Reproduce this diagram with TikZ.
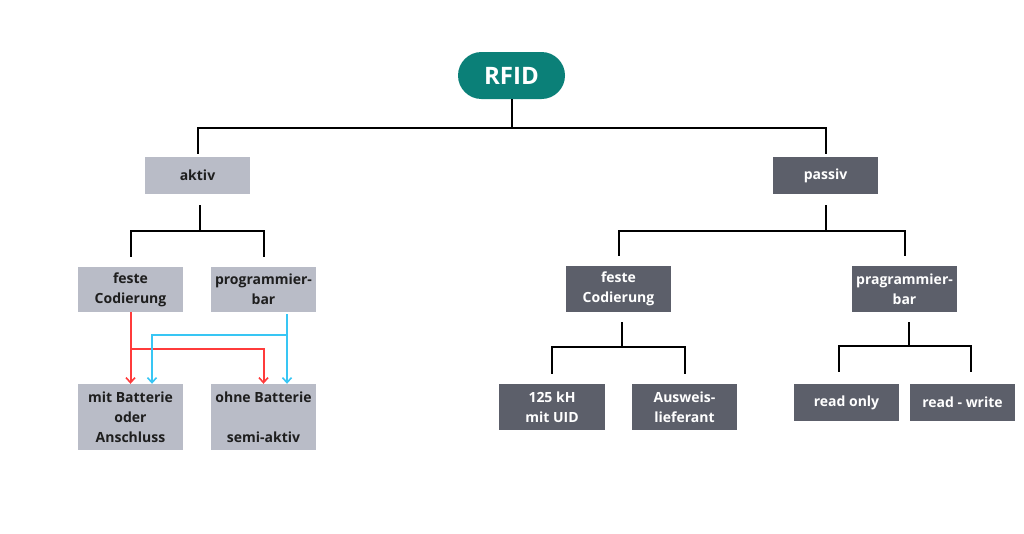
\documentclass[tikz,border=0pt]{standalone}
\usepackage{fontspec}
\setmainfont{Open Sans}
\usetikzlibrary{arrows.meta}
\definecolor{teal1}{HTML}{0B8078}
\definecolor{lgrey}{HTML}{B9BCC7}
\definecolor{dgrey}{HTML}{5C5F6A}
\definecolor{txt}{HTML}{1E1E1E}
\definecolor{redc}{HTML}{FF3B3B}
\definecolor{bluec}{HTML}{38C6F4}
\begin{document}
\begin{tikzpicture}[x=1pt,y=-1pt,
  box/.style={inner sep=0pt, minimum width=105pt, align=center,
    font=\fontsize{14}{20}\selectfont\bfseries},
  lbox/.style={box, fill=lgrey, text=txt},
  dbox/.style={box, fill=dgrey, text=white},
  conn/.style={line width=2pt, black},
  rarr/.style={line width=2pt, redc, -{Straight Barb[length=5pt,width=9pt,line width=1.6pt]}},
  barr/.style={line width=2pt, bluec, -{Straight Barb[length=5pt,width=9pt,line width=1.6pt]}}
]
\useasboundingbox[fill=white] (0,0) rectangle (1024,533);

% nodes
\node[fill=teal1, text=white, rounded corners=23.5pt, minimum width=107pt, minimum height=47pt, inner sep=0pt,
  font=\fontsize{24}{28}\selectfont\bfseries] (rfid) at (511.5,75.5) {RFID};

\node[lbox, minimum height=37pt] (aktiv) at (197.5,175.5) {aktiv};
\node[dbox, minimum height=37pt] (passiv) at (825.5,175.5) {passiv};

\node[lbox, minimum height=45pt] (fc1) at (130.5,289.5) {feste\\Codierung};
\node[lbox, minimum height=45pt] (pb1) at (263.5,289.5) {programmier-\\bar};

\node[lbox, minimum height=66pt] (mb) at (130.5,417) {mit Batterie\\oder\\Anschluss};
\node[lbox, minimum height=66pt] (ob) at (263.5,417) {ohne Batterie\\[20pt]semi-aktiv};

\node[dbox, minimum height=46pt] (fc2) at (618.5,289) {feste\\Codierung};
\node[dbox, minimum height=46pt] (pb2) at (904.5,289) {pragrammier-\\bar};

\node[dbox, minimum height=46pt, minimum width=106pt] (khz) at (552,407) {125 kH\\mit UID};
\node[dbox, minimum height=46pt] (ausw) at (684.5,407) {Ausweis-\\lieferant};

\node[dbox, minimum height=37pt] (ro) at (846.5,402.5) {read only};
\node[dbox, minimum height=37pt] (rw) at (962.5,402.5) {read - write};

% tree connectors
\coordinate (t0) at (511.5,128);
\draw[conn] (rfid.south) -- (t0);
\draw[conn, shorten <=3pt, shorten >=3pt] (aktiv.north) |- (t0) -| (passiv.north);

\coordinate (a0) at (200,231);
\draw[conn, shorten >=11pt] (a0) -- (a0 |- aktiv.south);
\draw[conn] ([yshift=10pt]fc1.north) |- (a0) -| ([yshift=10pt]pb1.north);

\coordinate (p0) at (826,231);
\draw[conn, shorten >=11pt] (p0) -- (p0 |- passiv.south);
\draw[conn] ([yshift=10pt]fc2.north) |- (p0) -| ([yshift=10pt]pb2.north);

\coordinate (f0) at (622,347);
\draw[conn, shorten >=10pt] (f0) -- (f0 |- fc2.south);
\draw[conn] ([yshift=10pt]khz.north) |- (f0) -| ([yshift=10pt]ausw.north);

\coordinate (g0) at (909,346);
\draw[conn, shorten >=10pt] (g0) -- (g0 |- pb2.south);
\draw[conn] ([yshift=12pt,xshift=-7.5pt]ro.north) |- (g0) -| ([yshift=12pt,xshift=8.5pt]rw.north);

% red arrows
\coordinate (r1) at (130.5,349);
\draw[rarr] (fc1.south) -- (mb.north);
\draw[rarr] (r1) -| (ob.north);

% blue arrows
\coordinate (b1) at (287,335);
\draw[barr] ([xshift=23.5pt,yshift=-2pt]pb1.south) -- ([xshift=23.5pt]ob.north);
\draw[barr] (b1) -| ([xshift=21.5pt]mb.north);
\end{tikzpicture}
\end{document}
